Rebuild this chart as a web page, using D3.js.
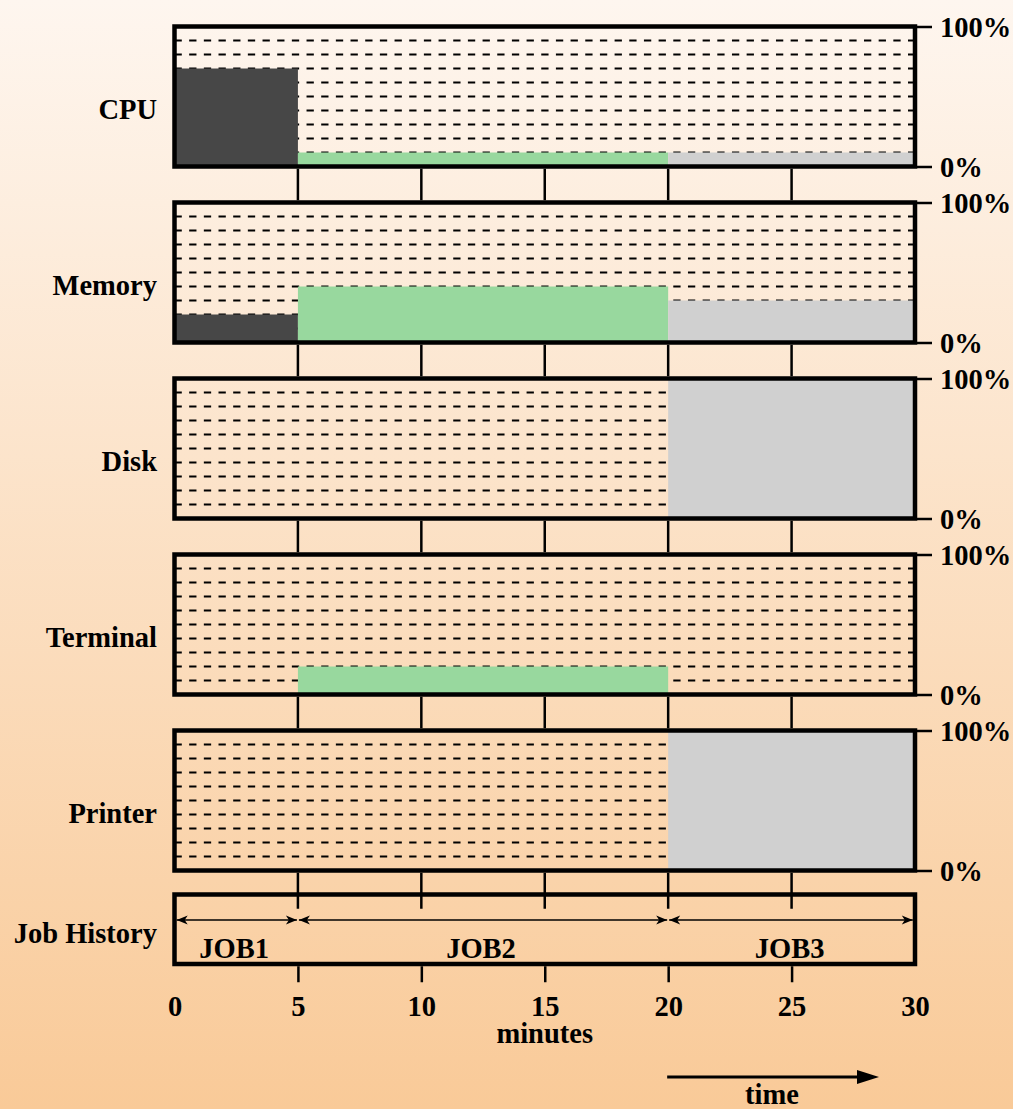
<!DOCTYPE html>
<html>
<head>
<meta charset="utf-8">
<script src="https://cdn.jsdelivr.net/npm/d3@7"></script>
<style>
  body { margin: 0; }
  svg text { font-family: 'Liberation Serif', 'Times New Roman', serif; font-weight: bold; fill: #000; }
</style>
</head>
<body>
<div id="container"></div>
<script>
const resources = ['CPU', 'Memory', 'Disk', 'Terminal', 'Printer'];
const jobs = ['JOB1', 'JOB2', 'JOB3'];
const jobStart = [0, 5, 20];
const jobEnd = [5, 20, 30];
// percent use of each resource by JOB1, JOB2, JOB3
const cpuUse = [70, 10, 10];
const memoryUse = [20, 40, 30];
const diskUse = [0, 0, 100];
const terminalUse = [0, 20, 0];
const printerUse = [0, 0, 100];
const jobColors = ['#474747', '#98d89e', '#d0d0d0'];
const xTicks = [0, 5, 10, 15, 20, 25, 30];
const gridLevels = [10, 20, 30, 40, 50, 60, 70, 80, 90];
const pctTicks = [0, 100];

const usage = [cpuUse, memoryUse, diskUse, terminalUse, printerUse];

const W = 1013, H = 1109;
const FONT = '28.5px';
const panelTop = 26.5, panelH = 140, panelStep = 176;
const histTop = 894.5, histBottom = 964;

const svg = d3.select('#container').append('svg')
  .attr('width', W).attr('height', H);

const grad = svg.append('defs').append('linearGradient')
  .attr('id', 'bg').attr('x1', 0).attr('y1', 0).attr('x2', 0).attr('y2', 1);
grad.append('stop').attr('offset', 0).attr('stop-color', '#fef6ef');
grad.append('stop').attr('offset', 1).attr('stop-color', '#f9ca98');
svg.append('rect').attr('width', W).attr('height', H).attr('fill', 'url(#bg)');

const x = d3.scaleLinear().domain([0, 30]).range([174.5, 915]);
const y = d3.scaleLinear().domain([0, 100]).range([panelH, 0]);
const innerTicks = xTicks.slice(1, -1);

resources.forEach((name, i) => {
  const g = svg.append('g').attr('transform', `translate(0, ${panelTop + i * panelStep})`);

  g.selectAll('line.grid')
    .data(gridLevels)
    .join('line')
      .attr('class', 'grid')
      .attr('x1', x(0)).attr('x2', x(30))
      .attr('y1', d => y(d)).attr('y2', d => y(d))
      .attr('stroke', '#000')
      .attr('stroke-width', 2.2)
      .attr('stroke-dasharray', '7.3,7.37');

  g.selectAll('rect.use')
    .data(usage[i].map((v, j) => ({ v, j })).filter(d => d.v > 0))
    .join('rect')
      .attr('class', 'use')
      .attr('x', d => x(jobStart[d.j]))
      .attr('width', d => x(jobEnd[d.j]) - x(jobStart[d.j]))
      .attr('y', d => y(d.v))
      .attr('height', d => y(0) - y(d.v))
      .attr('fill', d => jobColors[d.j]);

  g.append('rect')
    .attr('x', x(0)).attr('y', 0)
    .attr('width', x(30) - x(0)).attr('height', panelH)
    .attr('fill', 'none').attr('stroke', '#000').attr('stroke-width', 4.5);

  const right = g.append('g')
    .attr('transform', `translate(${x(30) + 2}, 0)`)
    .call(d3.axisRight(y).tickValues(pctTicks).tickSize(15).tickPadding(8).tickFormat(d => d + '%'));
  right.select('.domain').remove();
  right.selectAll('.tick line').attr('stroke', '#000').attr('stroke-width', 2.5);
  right.selectAll('.tick text').style('font-size', FONT).attr('dy', '0.34em');

  g.append('text')
    .attr('x', 157).attr('y', panelH / 2 + 22)
    .attr('text-anchor', 'end')
    .style('font-size', FONT)
    .text(name);

  // ticks in the gap below this panel
  const gapEnd = i < resources.length - 1 ? panelStep - 2.25 : panelH + 2.25 + 36;
  g.selectAll('line.gap')
    .data(innerTicks)
    .join('line')
      .attr('class', 'gap')
      .attr('x1', d => x(d)).attr('x2', d => x(d))
      .attr('y1', panelH + 2.25).attr('y2', gapEnd)
      .attr('stroke', '#000').attr('stroke-width', 2.5);
});

// job history
const hist = svg.append('g');
hist.append('rect')
  .attr('x', x(0)).attr('y', histTop)
  .attr('width', x(30) - x(0)).attr('height', histBottom - histTop)
  .attr('fill', 'none').attr('stroke', '#000').attr('stroke-width', 4.5);

const arrowY = 920;
const ah = 11, aw = 4.5;
jobs.forEach((job, j) => {
  const x0 = x(jobStart[j]) + (j === 0 ? 2.2 : 1);
  const x1 = x(jobEnd[j]) - (j === jobs.length - 1 ? 2.2 : 1);
  hist.append('line')
    .attr('x1', x0).attr('x2', x1).attr('y1', arrowY).attr('y2', arrowY)
    .attr('stroke', '#000').attr('stroke-width', 1.6);
  hist.append('path')
    .attr('d', `M${x0},${arrowY}L${x0 + ah},${arrowY - aw}L${x0 + ah - 3},${arrowY}L${x0 + ah},${arrowY + aw}Z`)
    .attr('fill', '#000');
  hist.append('path')
    .attr('d', `M${x1},${arrowY}L${x1 - ah},${arrowY - aw}L${x1 - ah + 3},${arrowY}L${x1 - ah},${arrowY + aw}Z`)
    .attr('fill', '#000');
  hist.append('text')
    .attr('x', x((jobStart[j] + jobEnd[j]) / 2) - 2).attr('y', 958)
    .attr('text-anchor', 'middle')
    .style('font-size', FONT)
    .text(job);
});

hist.append('text')
  .attr('x', 157).attr('y', 943)
  .attr('text-anchor', 'end')
  .style('font-size', FONT)
  .text('Job History');

// time axis
const xAxis = svg.append('g')
  .attr('transform', `translate(0, ${histBottom + 2.25})`)
  .call(d3.axisBottom(x).tickValues(xTicks).tickSize(16).tickFormat(d3.format('d')));
xAxis.select('.domain').remove();
xAxis.selectAll('.tick line')
  .attr('stroke', '#000').attr('stroke-width', 2.5)
  .attr('y2', d => (d === 0 || d === 30) ? 0 : 16);
xAxis.selectAll('.tick text')
  .style('font-size', FONT)
  .attr('y', 50).attr('dy', null);

svg.append('text')
  .attr('x', x(15)).attr('y', 1043)
  .attr('text-anchor', 'middle')
  .style('font-size', FONT)
  .text('minutes');

svg.append('line')
  .attr('x1', x(20) - 1).attr('x2', 860).attr('y1', 1077).attr('y2', 1077)
  .attr('stroke', '#000').attr('stroke-width', 3);
svg.append('path')
  .attr('d', 'M879,1077L857,1070L857,1084Z')
  .attr('fill', '#000');
svg.append('text')
  .attr('x', 772).attr('y', 1104)
  .attr('text-anchor', 'middle')
  .style('font-size', FONT)
  .text('time');
</script>
</body>
</html>
